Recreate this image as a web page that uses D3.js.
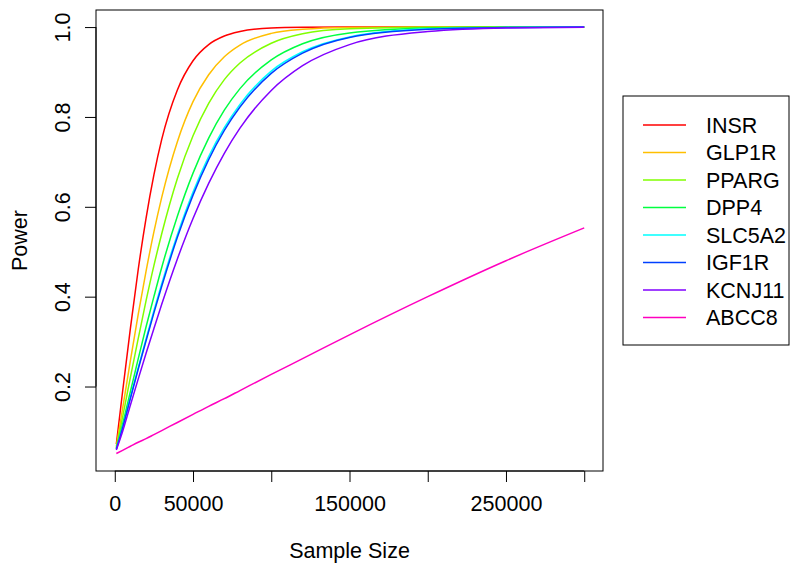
<!DOCTYPE html>
<html>
<head>
<meta charset="utf-8">
<script src="https://cdn.jsdelivr.net/npm/d3@7.9.0/dist/d3.min.js"></script>
<style>
  body { margin: 0; background: #fff; }
  svg { font-family: "Liberation Sans", Arial, Helvetica, sans-serif; }
</style>
</head>
<body>
<svg id="chart" width="790" height="567"></svg>
<script>
// sample sizes the power was read at
const sampleSizes = [1000, 5000, 10000, 15000, 20000, 25000, 30000, 40000, 50000, 60000,
  70000, 80000, 100000, 120000, 150000, 200000, 250000, 300000];

const genes = ['INSR', 'GLP1R', 'PPARG', 'DPP4', 'SLC5A2', 'IGF1R', 'KCNJ11', 'ABCC8'];
const geneColors = ['#FF0000', '#FFBF00', '#80FF00', '#00FF40', '#00FFFF', '#0040FF', '#8000FF', '#FF00BF'];

// power values (one per sample size)
const powerINSR   = [0.072, 0.189, 0.330, 0.461, 0.575, 0.671, 0.750, 0.860, 0.925, 0.961, 0.980, 0.990, 0.998, 0.9995, 1.000, 1.000, 1.000, 1.000];
const powerGLP1R  = [0.067, 0.151, 0.258, 0.361, 0.457, 0.544, 0.621, 0.745, 0.834, 0.894, 0.934, 0.960, 0.986, 0.995, 0.999, 1.000, 1.000, 1.000];
const powerPPARG  = [0.064, 0.132, 0.221, 0.307, 0.391, 0.469, 0.540, 0.663, 0.758, 0.830, 0.883, 0.920, 0.964, 0.985, 0.996, 0.9996, 1.000, 1.000];
const powerDPP4   = [0.062, 0.116, 0.189, 0.262, 0.333, 0.400, 0.465, 0.579, 0.675, 0.753, 0.815, 0.863, 0.927, 0.963, 0.987, 0.998, 0.9998, 1.000];
const powerSLC5A2 = [0.061, 0.109, 0.176, 0.242, 0.306, 0.369, 0.429, 0.538, 0.633, 0.712, 0.776, 0.828, 0.902, 0.945, 0.978, 0.996, 0.9993, 1.000];
const powerIGF1R  = [0.061, 0.108, 0.174, 0.239, 0.302, 0.364, 0.423, 0.532, 0.626, 0.705, 0.770, 0.822, 0.897, 0.942, 0.977, 0.995, 0.9992, 1.000];
const powerKCNJ11 = [0.059, 0.100, 0.159, 0.217, 0.274, 0.329, 0.383, 0.484, 0.574, 0.652, 0.719, 0.775, 0.859, 0.914, 0.961, 0.990, 0.998, 0.9995];
const powerABCC8  = [0.051, 0.058, 0.067, 0.076, 0.084, 0.093, 0.102, 0.120, 0.138, 0.156, 0.173, 0.191, 0.227, 0.262, 0.315, 0.400, 0.480, 0.553];

const xTicks = [0, 50000, 100000, 150000, 200000, 250000, 300000];
const xTickLabels = ['0', '50000', '', '150000', '', '250000', ''];
const yTicks = [0.2, 0.4, 0.6, 0.8, 1.0];

const series = [powerINSR, powerGLP1R, powerPPARG, powerDPP4, powerSLC5A2, powerIGF1R, powerKCNJ11, powerABCC8];

const svg = d3.select('#chart');
const box = { left: 96, right: 603, top: 10, bottom: 471 };
const fontSize = 21.5;

const x = d3.scaleLinear().domain([-12000, 312000]).range([box.left, box.right]);
const y = d3.scaleLinear().domain([0.012, 1.038]).range([box.bottom, box.top]);

// curves
const line = d3.line()
  .x((d, i) => x(sampleSizes[i]))
  .y(d => y(d))
  .curve(d3.curveMonotoneX);

series.forEach((vals, i) => {
  svg.append('path')
    .attr('d', line(vals))
    .attr('fill', 'none')
    .attr('stroke', geneColors[i])
    .attr('stroke-width', 1.5);
});

// plot box
svg.append('rect')
  .attr('x', box.left).attr('y', box.top)
  .attr('width', box.right - box.left).attr('height', box.bottom - box.top)
  .attr('fill', 'none').attr('stroke', '#000').attr('stroke-width', 1);

// x axis
const xAxis = svg.append('g')
  .attr('transform', `translate(0,${box.bottom})`)
  .call(d3.axisBottom(x).tickValues(xTicks).tickSize(11).tickPadding(14)
    .tickFormat((d, i) => xTickLabels[i]));
xAxis.select('.domain').attr('d', `M${x(0)},0H${x(300000)}`);
xAxis.selectAll('text').attr('font-size', fontSize).attr('font-family', null).attr('fill', '#000');

// y axis, labels turned like R's las=0
const yAxis = svg.append('g')
  .attr('transform', `translate(${box.left},0)`)
  .call(d3.axisLeft(y).tickValues(yTicks).tickSize(11).tickFormat(d3.format('.1f')));
yAxis.select('.domain').attr('d', `M0,${y(0.2)}V${y(1.0)}`);
yAxis.selectAll('text')
  .attr('font-size', fontSize).attr('font-family', null).attr('fill', '#000')
  .attr('text-anchor', 'middle')
  .attr('x', null).attr('dy', null).attr('y', 0)
  .attr('transform', 'translate(-26,0) rotate(-90)');

// axis titles
svg.append('text')
  .attr('x', (box.left + box.right) / 2).attr('y', 558)
  .attr('text-anchor', 'middle').attr('font-size', fontSize)
  .text('Sample Size');

svg.append('text')
  .attr('transform', `translate(27,${(box.top + box.bottom) / 2}) rotate(-90)`)
  .attr('text-anchor', 'middle').attr('font-size', fontSize)
  .text('Power');

// legend
const legend = svg.append('g');
legend.append('rect')
  .attr('x', 623).attr('y', 96).attr('width', 166).attr('height', 249)
  .attr('fill', '#fff').attr('stroke', '#000').attr('stroke-width', 1);

genes.forEach((g, i) => {
  const ly = 125 + i * 27.5;
  legend.append('line')
    .attr('x1', 643).attr('x2', 686).attr('y1', ly).attr('y2', ly)
    .attr('stroke', geneColors[i]).attr('stroke-width', 1.5);
  legend.append('text')
    .attr('x', 706).attr('y', ly).attr('dy', '0.36em')
    .attr('font-size', fontSize)
    .text(g);
});
</script>
</body>
</html>
